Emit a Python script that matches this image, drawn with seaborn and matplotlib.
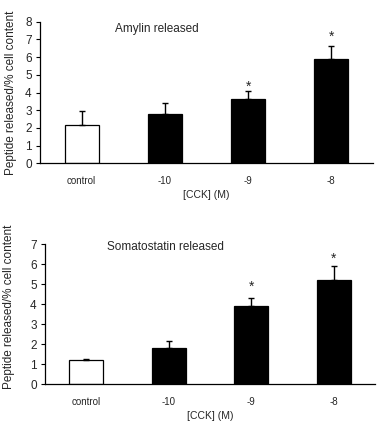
import numpy as np
import pandas as pd
import matplotlib
matplotlib.use("Agg")
import matplotlib.pyplot as plt
import seaborn as sns

# values
categories = ["control", "-10", "-9", "-8"]
amylin_mean = [2.15, 2.8, 3.62, 5.88]
amylin_err = [0.8, 0.6, 0.48, 0.77]
amylin_sig = [False, False, True, True]
somato_mean = [1.2, 1.82, 3.92, 5.2]
somato_err = [0.05, 0.33, 0.38, 0.7]
somato_sig = [False, False, True, True]

sns.set_style("white")
plt.rcParams['font.family'] = ['Liberation Sans', 'DejaVu Sans']

colors = {"control": "white", "-10": "black", "-9": "black", "-8": "black"}

fig = plt.figure(figsize=(3.79, 4.37), dpi=100)
ax1 = fig.add_axes([0.1055, 0.6263, 0.8786, 0.324])
ax2 = fig.add_axes([0.1187, 0.1206, 0.8707, 0.3204])


def draw_panel(ax, means, errs, sig, ymax, title, title_xy, ylab_xy, star_off):
    df = pd.DataFrame({"cck": categories, "val": means})
    sns.barplot(data=df, x="cck", y="val", hue="cck", palette=colors,
                width=0.41, edgecolor="black", linewidth=0.9,
                legend=False, ax=ax)
    x = np.arange(len(categories))
    # only the upper half of the error bar is shown
    ax.errorbar(x, means, yerr=[np.zeros(len(errs)), errs], fmt="none",
                ecolor="black", elinewidth=1.0, capsize=2.5, capthick=1.0)
    for i, s in enumerate(sig):
        if s:
            ax.text(x[i], means[i] + errs[i] + star_off[i], "*", ha="center",
                    va="center", fontsize=10)
    ax.set_xlim(-0.5, 3.5)
    ax.set_ylim(0, ymax)
    ax.set_yticks(range(0, ymax + 1))
    ax.set_xticks(x, categories)
    ax.set_xticks([0.5, 1.5, 2.5, 3.5], minor=True)
    ax.tick_params(axis="x", which="major", length=0, pad=9, labelsize=7)
    ax.tick_params(axis="x", which="minor", direction="in", length=3,
                   width=0.8, color="black")
    ax.tick_params(axis="y", direction="out", length=3, width=0.8,
                   color="black", pad=3, labelsize=8.5)
    ax.tick_params(bottom=True, left=True)
    sns.despine(ax=ax)
    for sp in ["left", "bottom"]:
        ax.spines[sp].set_color("black")
        ax.spines[sp].set_linewidth(0.9)
    ax.set_xlabel("[CCK] (M)", fontsize=7.5, labelpad=3)
    ax.set_ylabel("Peptide released/% cell content", fontsize=8.5)
    ax.yaxis.set_label_coords(*ylab_xy)
    ax.text(title_xy[0], title_xy[1], title, transform=ax.transAxes,
            ha="left", va="center", fontsize=8.5)


draw_panel(ax1, amylin_mean, amylin_err, amylin_sig, 8, "Amylin released",
           (0.225, 0.948), (-0.07, 0.5), [0, 0, 0.25, 0.5])
draw_panel(ax2, somato_mean, somato_err, somato_sig, 7, "Somatostatin released",
           (0.188, 0.98), (-0.092, 0.55), [0, 0, 0.6, 0.38])

fig.savefig("out.png", dpi=100)
